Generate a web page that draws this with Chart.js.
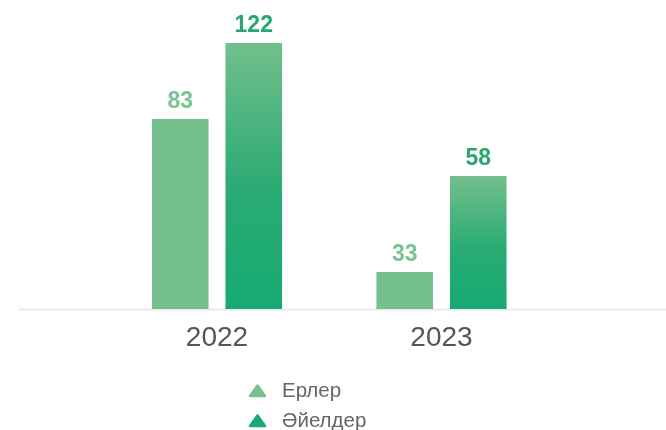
<!DOCTYPE html>
<html>
<head>
<meta charset="utf-8">
<script src="https://cdn.jsdelivr.net/npm/chart.js@4/dist/chart.umd.min.js"></script>
<style>
  html, body { margin: 0; padding: 0; background: #ffffff; }
  #wrap { position: relative; width: 666px; height: 430px; }
  #legend { position: absolute; left: 248px; top: 375px; font-family: "Liberation Sans", Arial, sans-serif; font-size: 20.5px; color: #666666; }
  .li { display: flex; align-items: center; height: 30px; }
  .li svg { margin-right: 15px; }
</style>
</head>
<body>
<div id="wrap">
  <canvas id="c" width="666" height="430"></canvas>
  <div id="legend"></div>
</div>
<script>
// ---- data ----
const categories = ['2022', '2023'];
const seriesNames = ['Ерлер', 'Әйелдер'];
const menValues = [83, 33];
const womenValues = [122, 58];

// ---- value-axis ranges (hidden axes) ----
const menAxisMin = 20.9, menAxisMax = 118.6;
const womenAxisMin = -6, womenAxisMax = 137.9;

// ---- styles ----
const lightGreen = '#76c08f';
const labelLight = '#7ac393';
const labelDark = '#2aa76d';
const darkTop = '#72bf8c';
const darkMid = '#2aab73';
const darkBottom = '#17aa73';

function darkGradient(c) {
  if (c.type !== 'data') return darkBottom;
  const chart = c.chart;
  const area = chart.chartArea;
  if (!area) return darkBottom;
  const ys = chart.scales[c.dataset.yAxisID];
  const top = ys.getPixelForValue(c.raw);
  const g = chart.ctx.createLinearGradient(0, top, 0, area.bottom);
  g.addColorStop(0, darkTop);
  g.addColorStop(0.55, darkMid);
  g.addColorStop(1, darkBottom);
  return g;
}

const baselinePlugin = {
  id: 'baseline',
  beforeDatasetsDraw(chart) {
    const { ctx, chartArea } = chart;
    ctx.save();
    ctx.strokeStyle = '#e9e9e9';
    ctx.lineWidth = 2;
    ctx.beginPath();
    ctx.moveTo(19, chartArea.bottom + 0.5);
    ctx.lineTo(chart.width, chartArea.bottom + 0.5);
    ctx.stroke();
    ctx.restore();
  }
};

const valueLabelPlugin = {
  id: 'valueLabels',
  afterDatasetsDraw(chart) {
    const { ctx } = chart;
    ctx.save();
    ctx.font = 'bold 23px "Liberation Sans", Arial, sans-serif';
    ctx.textAlign = 'center';
    ctx.textBaseline = 'alphabetic';
    chart.data.datasets.forEach((ds, di) => {
      const meta = chart.getDatasetMeta(di);
      ctx.fillStyle = ds.labelColor;
      meta.data.forEach((el, i) => {
        ctx.fillText(String(ds.data[i]), el.x, el.y - 11);
      });
    });
    ctx.restore();
  }
};

const chart = new Chart(document.getElementById('c'), {
  type: 'bar',
  data: {
    labels: categories,
    datasets: [
      { label: seriesNames[0], data: menValues, backgroundColor: lightGreen, labelColor: labelLight, yAxisID: 'y', legendColor: lightGreen },
      { label: seriesNames[1], data: womenValues, base: womenAxisMin, backgroundColor: darkGradient, labelColor: labelDark, yAxisID: 'y2', legendColor: darkBottom }
    ]
  },
  options: {
    responsive: false,
    animation: false,
    devicePixelRatio: 1,
    layout: { padding: { left: 104.75, right: 112.25, top: 10, bottom: 63.4 } },
    datasets: { bar: { categoryPercentage: 0.655, barPercentage: 0.77 } },
    plugins: { legend: { display: false }, tooltip: { enabled: false } },
    scales: {
      x: {
        grid: { display: false, drawTicks: false },
        border: { display: false },
        ticks: { color: '#555555', padding: 12, font: { family: '"Liberation Sans", Arial, sans-serif', size: 28 } }
      },
      y: { display: false, min: menAxisMin, max: menAxisMax },
      y2: { display: false, min: womenAxisMin, max: womenAxisMax }
    }
  },
  plugins: [baselinePlugin, valueLabelPlugin]
});

// HTML legend built from chart datasets
const legendEl = document.getElementById('legend');
chart.data.datasets.forEach(ds => {
  const row = document.createElement('div');
  row.className = 'li';
  const svgNS = 'http://www.w3.org/2000/svg';
  const svg = document.createElementNS(svgNS, 'svg');
  svg.setAttribute('width', '19');
  svg.setAttribute('height', '15');
  const p = document.createElementNS(svgNS, 'polygon');
  p.setAttribute('points', '9.5,2.5 17,13 2,13');
  p.setAttribute('fill', ds.legendColor);
  p.setAttribute('stroke', ds.legendColor);
  p.setAttribute('stroke-width', '2.5');
  p.setAttribute('stroke-linejoin', 'round');
  svg.appendChild(p);
  const span = document.createElement('span');
  span.textContent = ds.label;
  row.appendChild(svg);
  row.appendChild(span);
  legendEl.appendChild(row);
});
</script>
</body>
</html>
